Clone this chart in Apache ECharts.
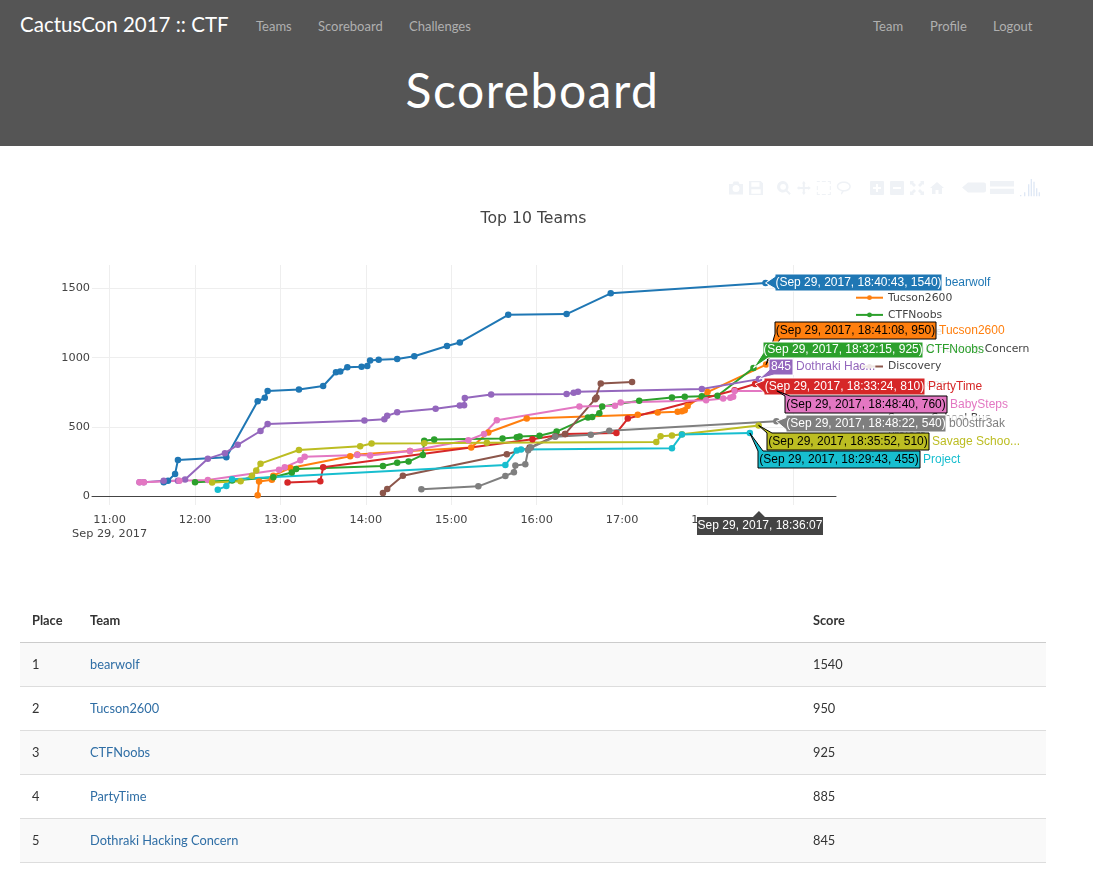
<!DOCTYPE html>
<html>
<head>
<meta charset="utf-8">
<title>Scoreboard</title>
<script src="https://cdn.jsdelivr.net/npm/echarts@6/dist/echarts.min.js"></script>
<style>
html, body { margin: 0; padding: 0; width: 1093px; height: 869px; overflow: hidden; background: #fff; font-family: Lato, sans-serif; color: #333; font-size: 12.8px; }
#head { position: absolute; left: 0; top: 0; width: 1093px; height: 146px; background: #555; }
#head a { position: absolute; top: 17px; color: #b0b0b0; font-size: 13px; line-height: 18px; text-decoration: none; }
#brand { position: absolute; left: 20px; top: 10px; color: #fff; font-size: 20.5px; line-height: 28px; }
#head h1 { position: absolute; left: 0; width: 1065px; top: 61px; margin: 0; text-align: center; color: #fff; font-weight: 400; font-size: 48px; line-height: 58px; letter-spacing: 1.5px; }
#capacity { position: absolute; left: 0; top: 0; width: 1093px; height: 600px; }
table { position: absolute; left: 20px; top: 599px; width: 1026px; border-collapse: collapse; table-layout: fixed; }
th, td { height: 41px; padding: 0 0 2px 12px; text-align: left; border-bottom: 1px solid #ddd; box-sizing: content-box; }
th { font-weight: 700; border-bottom: 1px solid #ccc; }
tbody tr:nth-child(odd) { background: #f9f9f9; }
td a { color: #2f6ea5; text-decoration: none; }
</style>
</head>
<body>
<div id="head">
  <div id="brand">CactusCon 2017 :: CTF</div>
  <a style="left:256px">Teams</a>
  <a style="left:318px">Scoreboard</a>
  <a style="left:409px">Challenges</a>
  <a style="left:873px">Team</a>
  <a style="left:930px">Profile</a>
  <a style="left:993px">Logout</a>
  <h1>Scoreboard</h1>
</div>
<div id="capacity"></div>
<table>
  <colgroup><col style="width:58px"><col style="width:723px"><col></colgroup>
  <thead><tr><th>Place</th><th>Team</th><th>Score</th></tr></thead>
  <tbody id="rows"></tbody>
</table>
<script>
// 计分板数据
var day = '2017-09-29 ';
var teams = ['bearwolf', 'Tucson2600', 'CTFNoobs', 'PartyTime', 'Dothraki Hacking Concern', 'Discovery', 'BabySteps', 'b00stfr3ak', 'Savage School Bus', 'Project'];
var colors = ['#1f77b4', '#ff7f0e', '#2ca02c', '#d62728', '#9467bd', '#8c564b', '#e377c2', '#7f7f7f', '#bcbd22', '#17becf'];

var bearwolfTimes = ['11:38','11:41','11:46','11:48','12:22','12:44','12:49','12:51','13:13','13:30','13:39','13:42','13:47','13:57','14:01','14:03','14:09','14:22','14:34','14:57','15:06','15:40','16:21','16:52','18:40:43'];
var bearwolfScores = [100,110,160,260,280,685,710,760,770,795,895,900,930,935,940,980,985,990,1010,1085,1110,1310,1315,1465,1540];
var tucsonTimes = ['12:44','12:45','12:54','12:55','13:07','13:49','13:54','14:31','15:14','15:26','15:53','17:11','17:25','17:39','17:42','17:44','17:46','18:00','18:41:08'];
var tucsonScores = [5,105,118,147,203,287,300,325,350,459,560,587,604,609,613,620,650,751,950];
var noobsTimes = ['12:00','12:26','12:55','13:08','13:11','14:12','14:22','14:30','14:40','14:41','14:48','15:36','15:46','15:48','16:02','16:14','16:36','16:39','16:44','16:46','17:12','17:35','17:44','17:56','18:07','18:32:15'];
var noobsScores = [100,112,135,170,195,217,240,249,297,400,408,415,425,430,435,466,568,572,599,647,688,712,717,722,725,925];
var partyTimes = ['13:05','13:28','13:30','15:57','16:20','16:56','17:04','18:19','18:33:24'];
var partyScores = [97,107,208,410,449,456,560,765,810];
var dothrakiTimes = ['11:21','11:24','11:38','11:48','11:53','12:09','12:21','12:30','12:46','12:51','13:59','14:13','14:15','14:22','14:49','15:06','15:09','15:09:30','15:28','16:21','16:26','16:29','17:56','18:36:07'];
var dothrakiScores = [100,100,110,110,120,270,310,370,470,520,545,555,580,605,630,655,657,708,734,737,746,754,773,845];
var discoveryTimes = ['14:12','14:15','14:26','15:39','15:55','16:13','16:20','16:41','16:42','16:45','17:07'];
var discoveryScores = [22,50,147,302,350,432,449,700,712,814,824];
var babyTimes = ['11:21','11:24','11:49','12:09','12:59','13:03','13:14','13:17','13:54','14:03','14:31','15:12','15:23','15:32','16:30','16:55','16:59','17:59','18:11','18:16','18:18','18:19','18:48:40'];
var babyScores = [100,100,110,115,190,208,258,283,297,292,325,403,449,548,647,652,676,693,705,710,717,760,760];
var b00stTimes = ['14:39','15:19','15:38','15:44','15:45','15:52','15:54','15:56','16:13','16:38','16:51','18:48:22'];
var b00stScores = [48,70,145,172,220,229,331,350,428,442,471,540];
var savageTimes = ['12:12','12:32','12:40','12:43','12:46','13:13','13:56','14:04','14:41','15:25','17:24','17:27','17:35','17:42','18:35:52'];
var savageScores = [97,106,147,184,234,333,360,380,382,385,391,432,437,447,510];
var projectTimes = ['12:16','12:22','12:26','15:38','15:46','15:49','17:35','17:42','18:29:43'];
var projectScores = [46,72,121,225,329,336,345,444,455];

var allTimes = [bearwolfTimes, tucsonTimes, noobsTimes, partyTimes, dothrakiTimes, discoveryTimes, babyTimes, b00stTimes, savageTimes, projectTimes];
var allScores = [bearwolfScores, tucsonScores, noobsScores, partyScores, dothrakiScores, discoveryScores, babyScores, b00stScores, savageScores, projectScores];

// 悬浮标签
var hoverTeams = [0, 1, 2, 4, 3, 6, 7, 8, 9];
var hoverNames = ['bearwolf', 'Tucson2600', 'CTFNoobs', 'Dothraki Hac...', 'PartyTime', 'BabySteps', 'b00stfr3ak', 'Savage Schoo...', 'Project'];
var hoverTexts = ['(Sep 29, 2017, 18:40:43, 1540)', '(Sep 29, 2017, 18:41:08, 950)', '(Sep 29, 2017, 18:32:15, 925)', '845', '(Sep 29, 2017, 18:33:24, 810)', '(Sep 29, 2017, 18:48:40, 760)', '(Sep 29, 2017, 18:48:22, 540)', '(Sep 29, 2017, 18:35:52, 510)', '(Sep 29, 2017, 18:29:43, 455)'];
var hoverInk = ['#fff', '#000', '#fff', '#fff', '#fff', '#000', '#fff', '#000', '#000'];
var hoverBoxes = [[775,274,167,17],[775,322,161,17],[763,342,160,16],[769,359,24,16],[764,378,161,17],[785,396,162,17],[786,415,160,17],[767,433,162,17],[758,451,162,17]];
var crossTime = '18:36:07';
var crossText = 'Sep 29, 2017, 18:36:07';

var places = [1, 2, 3, 4, 5];
var tableTeams = ['bearwolf', 'Tucson2600', 'CTFNoobs', 'PartyTime', 'Dothraki Hacking Concern'];
var tableScores = [1540, 950, 925, 885, 845];

var html = '';
for (let index = 0; index < places.length; index++) {
    html += '<tr><td>' + places[index] + '</td><td><a>' + tableTeams[index] + '</a></td><td>' + tableScores[index] + '</td></tr>';
}
document.getElementById('rows').innerHTML = html;

var myChart = echarts.init(document.getElementById('capacity'));

var series = [];
for (let index = 0; index < teams.length; index++) {
    series.push({
        name: teams[index],
        type: 'line',
        showSymbol: true,
        showAllSymbol: true,
        symbol: 'circle',
        symbolSize: 6.5,
        lineStyle: { width: 2, color: colors[index] },
        itemStyle: { color: colors[index] },
        data: allTimes[index].map(function (t, i) { return [day + t, allScores[index][i]]; })
    });
}

// 标签连到数据点
function hoverItem(params, api) {
    var i = params.dataIndex;
    var p = api.coord([api.value(0), api.value(1)]);
    var b = hoverBoxes[i];
    var x0 = b[0], y0 = b[1], x1 = b[0] + b[2], y1 = b[1] + b[3];
    var pts;
    if (p[1] < y0) {
        pts = [p, [x0 + 5, y0], [x1, y0], [x1, y1], [x0, y1], [x0, y0]];
    } else if (p[1] > y1) {
        pts = [p, [x0, y1 - 5], [x0, y0], [x1, y0], [x1, y1], [x0 + 5, y1]];
    } else {
        var cy = (y0 + y1) / 2;
        pts = [p, [x0, cy - 6], [x0, y0], [x1, y0], [x1, y1], [x0, y1], [x0, cy + 6]];
    }
    var c = colors[hoverTeams[i]];
    return {
        type: 'group',
        children: [
            // 名字下面的图例文字要变淡
            { type: 'text', x: x1, y: (y0 + y1) / 2, style: { text: hoverNames[i], fill: c, font: '12px "Liberation Sans"', align: 'left', verticalAlign: 'middle', backgroundColor: 'rgba(255,255,255,0.85)', padding: [2, 0, 2, 3] } },
            { type: 'polygon', shape: { points: pts }, style: { fill: c, stroke: hoverInk[i], lineWidth: 1 } },
            { type: 'text', x: (x0 + x1) / 2, y: (y0 + y1) / 2, style: { text: hoverTexts[i], fill: hoverInk[i], font: '12px "Liberation Sans"', align: 'center', verticalAlign: 'middle' } }
        ]
    };
}

function crossItem(params, api) {
    var p = api.coord([api.value(0), 0]);
    var top = 517;
    return {
        type: 'group',
        children: [
            // 盖住被悬浮框挡住的刻度文字
            { type: 'rect', shape: { x: 697, y: top - 5, width: 126, height: 5 }, style: { fill: '#fff' } },
            { type: 'polygon', shape: { points: [[p[0], top - 6], [p[0] + 6, top], [p[0] - 6, top]] }, style: { fill: '#444' } },
            { type: 'rect', shape: { x: 697, y: top, width: 126, height: 18 }, style: { fill: '#444' } },
            { type: 'text', x: 760, y: top + 9, style: { text: crossText, fill: '#fff', font: '12px "Liberation Sans"', align: 'center', verticalAlign: 'middle' } }
        ]
    };
}

series.push({
    name: 'hover',
    type: 'custom',
    z: 10,
    silent: true,
    renderItem: hoverItem,
    data: hoverTeams.map(function (t) {
        var n = allTimes[t].length - 1;
        return [day + allTimes[t][n], allScores[t][n]];
    })
});
series.push({
    name: 'cross',
    type: 'custom',
    z: 10,
    silent: true,
    renderItem: crossItem,
    data: [[day + crossTime, 0]]
});

// 工具栏图标
var barColor = '#eff2f6';
function bar(left, icons) {
    var feature = {};
    icons.forEach(function (d, i) {
        feature['myTool' + i] = { show: true, title: '', icon: 'path://' + d, onclick: function () {} };
    });
    return { left: left, top: 166, itemSize: 14, itemGap: 6, showTitle: false, iconStyle: { color: barColor, borderWidth: 0 }, feature: feature };
}
var camera = 'M1 3H4L5 1H9L10 3H13V12H1ZM7 4A3 3 0 1 0 7 10A3 3 0 1 0 7 4Z';
var save = 'M1 1H11L13 3V13H1ZM3 2V6H10V2ZM3 8V12H11V8Z';
var zoom = 'M6 0A6 6 0 0 1 10.5 9.5L14 13L12.5 14.5L9 11A6 6 0 1 1 6 0ZM6 3A3 3 0 1 0 6 9A3 3 0 1 0 6 3Z';
var pan = 'M7 0L9 2.5H8V6H11.500V5L14 7L11.500 9V8H8V11.500H9L7 14L5 11.500H6V8H2.500V9L0 7L2.500 5V6H6V2.500H5Z';
var box = 'M0 0H3V1H0ZM5 0H9V1H5ZM11 0H14V3H13V1H11ZM0 5H1V9H0ZM13 5H14V9H13ZM0 11H1V13H3V14H0ZM5 13H9V14H5ZM13 11H14V14H11V13H13Z';
var lasso = 'M7 1C11 1 14 3 14 6C14 9 11 11 7 11L5 14L4 13.500L5 10.800C2 10 0 8.500 0 6C0 3 3 1 7 1ZM7 2.500C4 2.500 1.500 4 1.500 6C1.500 8 4 9.500 7 9.500C10 9.500 12.500 8 12.500 6C12.500 4 10 2.500 7 2.500Z';
var plus = 'M1 0H13Q14 0 14 1V13Q14 14 13 14H1Q0 14 0 13V1Q0 0 1 0ZM6 3V6H3V8H6V11H8V8H11V6H8V3Z';
var minus = 'M1 0H13Q14 0 14 1V13Q14 14 13 14H1Q0 14 0 13V1Q0 0 1 0ZM3 6V8H11V6Z';
var scale = 'M0 0H4L3 1L6 4L4 6L1 3L0 4ZM14 0V4L13 3L10 6L8 4L11 1L10 0ZM0 14V10L1 11L4 8L6 10L3 13L4 14ZM14 14H10L11 13L8 10L10 8L13 11L14 10Z';
var home = 'M7 1L14 7H12V13H8.500V9H5.500V13H2V7H0Z';
var closest = 'M0 7L6 2H22Q24 2 24 4V10Q24 12 22 12H6Z';
var compare = 'M0 1H22V6H0ZM0 8H22V13H0Z';
var logo = 'M0 13H1V14H0ZM3 11H4V14H3ZM6 5H7V14H6ZM8 1H9V14H8ZM10 3H11V14H10ZM12 8H13V14H12ZM14 11H15V14H14Z';
var bar1 = bar(714, [camera, save]);
var bar2 = bar(762, [zoom, pan, box, lasso]);
var bar3 = bar(855, [plus, minus, scale, home]);
var bar4 = bar(947, [closest, compare]);
bar4.itemSize = 24;
bar4.itemGap = 4;
var bar5 = bar(1005, [logo]);
bar5.itemSize = 20;
bar5.top = 164;
bar5.iconStyle = { color: '#dfe8f5', borderWidth: 0 };

var option = {
    animation: false,
    textStyle: { fontFamily: 'DejaVu Sans' },
    title: {
        text: 'Top 10 Teams',
        left: 528.5,
        top: 206,
        textAlign: 'center',
        textStyle: { fontFamily: 'DejaVu Sans', fontSize: 15.7, fontWeight: 'normal', color: '#444' }
    },
    toolbox: [bar1, bar2, bar3, bar4, bar5],
    tooltip: { show: false },
    legend: {
        data: teams,
        orient: 'vertical',
        left: 855,
        top: 275,
        padding: 0,
        z: 3,
        itemWidth: 27,
        itemHeight: 6,
        itemGap: 6.2,
        selectedMode: false,
        textStyle: { fontFamily: 'DejaVu Sans', fontSize: 10.8, color: '#444' }
    },
    grid: { left: 92, top: 265, width: 744, height: 240, containLabel: false },
    xAxis: {
        type: 'time',
        min: day + '10:47:38',
        max: day + '19:30:14',
        minInterval: 3600000,
        maxInterval: 3600000,
        axisLine: { onZero: true, lineStyle: { color: '#444', width: 1 } },
        axisTick: { show: false },
        splitLine: { show: true, showMinLine: false, showMaxLine: false, lineStyle: { color: '#eee', width: 1 } },
        axisLabel: {
            color: '#444',
            fontFamily: 'DejaVu Sans',
            fontSize: 11.3,
            margin: 8,
            lineHeight: 14,
            showMinLabel: false,
            showMaxLabel: false,
            hideOverlap: false,
            formatter: function (value) {
                var d = new Date(value);
                if (d.getMinutes() !== 0 || d.getSeconds() !== 0) return '';
                var h = d.getHours();
                var s = (h < 10 ? '0' : '') + h + ':00';
                return h === 11 ? s + '\nSep 29, 2017' : s;
            }
        }
    },
    yAxis: {
        type: 'value',
        min: -65,
        max: 1670,
        splitNumber: 4,
        axisLine: { show: false },
        axisTick: { show: false },
        splitLine: { showMinLine: false, showMaxLine: false, lineStyle: { color: '#eee', width: 1 } },
        axisLabel: {
            color: '#444',
            fontFamily: 'DejaVu Sans',
            fontSize: 11.3,
            margin: 2,
            padding: [4, 0, 0, 0],
            showMinLabel: false,
            showMaxLabel: false,
            formatter: function (value) { return String(value); }
        }
    },
    series: series
};

myChart.setOption(option);

window.addEventListener('resize', function () {
    myChart.resize();
});
</script>
</body>
</html>
